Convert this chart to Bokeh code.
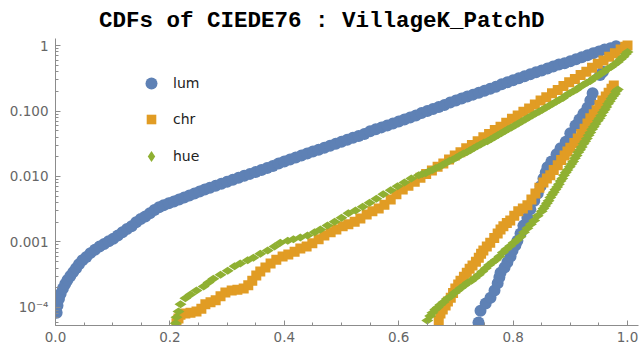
import numpy as np
from bokeh.plotting import figure
from bokeh.models import (FixedTicker, CustomJSTickFormatter, PrintfTickFormatter,
                          Legend, LegendItem, ColumnDataSource)
from bokeh.embed import file_html
from bokeh.resources import INLINE

TITLE = "CDFs of CIEDE76 : VillageK_PatchD"
series_names = ["lum", "chr", "hue"]
x_ticks = [0.0, 0.2, 0.4, 0.6, 0.8, 1.0]
y_ticks = [1e-4, 1e-3, 1e-2, 1e-1, 1.0]
y_tick_labels = ["10\u207b\u2074", "0.001", "0.010", "0.100", "1"]

# (x, log10 CDF) pairs
lum_1 = [(0.002,-4.08),(0.0035,-3.97),(0.006,-3.87),(0.009,-3.79),(0.013,-3.71),(0.017,-3.64),(0.021,-3.58),(0.026,-3.52),(0.031,-3.46),(0.036,-3.40),(0.041,-3.34),(0.047,-3.28),(0.054,-3.23),(0.061,-3.17),(0.069,-3.12),(0.077,-3.07),(0.085,-3.03),(0.093,-2.99),(0.101,-2.95),(0.109,-2.90),(0.117,-2.85),(0.125,-2.80),(0.133,-2.76),(0.141,-2.70),(0.149,-2.65),(0.157,-2.61),(0.165,-2.56),(0.173,-2.51),(0.181,-2.47),(0.189,-2.44),(0.198,-2.41),(0.207,-2.38),(0.216,-2.35),(0.225,-2.32),(0.234,-2.29),(0.243,-2.26),(0.252,-2.23),(0.261,-2.20),(0.270,-2.17),(0.280,-2.14),(0.290,-2.11),(0.300,-2.08),(0.310,-2.05),(0.320,-2.02),(0.330,-1.99),(0.340,-1.96),(0.350,-1.93),(0.360,-1.90),(0.370,-1.87),(0.380,-1.84),(0.390,-1.80),(0.400,-1.77),(0.410,-1.74),(0.420,-1.71),(0.430,-1.68),(0.440,-1.65),(0.450,-1.62),(0.460,-1.59),(0.470,-1.56),(0.480,-1.53),(0.490,-1.50),(0.500,-1.47),(0.510,-1.44),(0.520,-1.41),(0.530,-1.38),(0.540,-1.35),(0.550,-1.31),(0.560,-1.28),(0.570,-1.25),(0.580,-1.22),(0.590,-1.19),(0.600,-1.16),(0.610,-1.13),(0.620,-1.10),(0.630,-1.07),(0.640,-1.03),(0.650,-1.00),(0.660,-0.97),(0.670,-0.94),(0.680,-0.91),(0.690,-0.87),(0.700,-0.84),(0.710,-0.81),(0.720,-0.78),(0.730,-0.75),(0.740,-0.72),(0.750,-0.69),(0.760,-0.66),(0.770,-0.63),(0.780,-0.59),(0.790,-0.56),(0.800,-0.53),(0.810,-0.50),(0.820,-0.47),(0.830,-0.44),(0.840,-0.41),(0.850,-0.38),(0.860,-0.35),(0.870,-0.32),(0.880,-0.29),(0.890,-0.27),(0.900,-0.24),(0.910,-0.21),(0.920,-0.18),(0.930,-0.15),(0.940,-0.12),(0.950,-0.09),(0.960,-0.06),(0.970,-0.04),(0.980,-0.01)]
lum_2 = [(0.7395,-4.23),(0.743,-4.05),(0.752,-3.94),(0.7605,-3.85),(0.7675,-3.74),(0.773,-3.63),(0.776,-3.54),(0.778,-3.47),(0.785,-3.39),(0.790,-3.31),(0.7955,-3.22),(0.799,-3.13),(0.804,-3.05),(0.8075,-2.98),(0.813,-2.87),(0.818,-2.75),(0.825,-2.63),(0.830,-2.50),(0.837,-2.37),(0.843,-2.26),(0.848,-2.15),(0.853,-2.03),(0.857,-1.94),(0.860,-1.86),(0.867,-1.77),(0.876,-1.66),(0.883,-1.57),(0.892,-1.47),(0.900,-1.34),(0.909,-1.22),(0.916,-1.13),(0.923,-1.04),(0.930,-0.95),(0.935,-0.84),(0.939,-0.73),(0.952,-0.45),(0.957,-0.40)]
chr_1 = [(0.2115,-4.24),(0.215,-4.17),(0.2185,-4.11),(0.227,-4.09),(0.236,-4.08),(0.2465,-4.06),(0.255,-4.02),(0.262,-3.95),(0.271,-3.92),(0.280,-3.89),(0.2885,-3.83),(0.297,-3.77),(0.308,-3.74),(0.318,-3.73),(0.329,-3.71),(0.337,-3.66),(0.344,-3.59),(0.351,-3.51),(0.358,-3.45),(0.367,-3.39),(0.376,-3.33),(0.386,-3.27),(0.397,-3.22),(0.407,-3.19),(0.418,-3.15),(0.428,-3.10),(0.439,-3.07),(0.449,-3.02),(0.460,-2.96),(0.470,-2.90),(0.481,-2.85),(0.491,-2.81),(0.502,-2.76),(0.512,-2.73),(0.523,-2.69),(0.533,-2.64),(0.544,-2.58),(0.554,-2.53),(0.565,-2.49),(0.575,-2.43),(0.586,-2.35),(0.596,-2.27),(0.607,-2.20),(0.617,-2.14),(0.628,-2.08),(0.638,-2.02),(0.648,-1.96),(0.658,-1.91),(0.668,-1.85),(0.678,-1.80),(0.688,-1.74),(0.698,-1.68),(0.708,-1.63),(0.718,-1.57),(0.728,-1.52),(0.738,-1.46),(0.748,-1.40),(0.758,-1.35),(0.768,-1.29),(0.778,-1.24),(0.788,-1.18),(0.798,-1.12),(0.808,-1.07),(0.818,-1.01),(0.828,-0.96),(0.838,-0.90),(0.848,-0.84),(0.858,-0.79),(0.868,-0.73),(0.878,-0.68),(0.888,-0.62),(0.898,-0.56),(0.908,-0.51),(0.918,-0.45),(0.928,-0.40),(0.938,-0.34),(0.948,-0.28),(0.958,-0.23),(0.968,-0.17),(0.978,-0.12),(0.988,-0.06),(0.996,-0.02),(1.000,0.0)]
chr_2 = [(0.670,-4.20),(0.673,-4.09),(0.677,-4.03),(0.682,-3.97),(0.686,-3.91),(0.691,-3.85),(0.695,-3.78),(0.699,-3.71),(0.704,-3.65),(0.708,-3.59),(0.714,-3.53),(0.719,-3.47),(0.724,-3.41),(0.729,-3.36),(0.735,-3.30),(0.740,-3.24),(0.744,-3.18),(0.748,-3.13),(0.754,-3.07),(0.760,-3.01),(0.767,-2.94),(0.773,-2.87),(0.778,-2.81),(0.783,-2.76),(0.789,-2.71),(0.795,-2.67),(0.802,-2.60),(0.809,-2.53),(0.817,-2.49),(0.825,-2.44),(0.832,-2.35),(0.839,-2.26),(0.846,-2.17),(0.853,-2.09),(0.859,-2.03),(0.865,-1.98),(0.871,-1.90),(0.878,-1.83),(0.884,-1.75),(0.890,-1.68),(0.895,-1.62),(0.900,-1.56),(0.907,-1.49),(0.913,-1.42),(0.919,-1.35),(0.925,-1.27),(0.930,-1.19),(0.935,-1.11),(0.941,-1.05),(0.946,-0.99),(0.951,-0.91),(0.956,-0.84),(0.962,-0.78),(0.967,-0.72),(0.972,-0.66),(0.976,-0.61)]
hue_1 = [(0.210,-4.24),(0.2115,-4.15),(0.215,-4.06),(0.2185,-3.95),(0.227,-3.86),(0.236,-3.80),(0.2465,-3.74),(0.259,-3.68),(0.2675,-3.62),(0.276,-3.56),(0.2885,-3.50),(0.301,-3.44),(0.313,-3.37),(0.323,-3.33),(0.336,-3.28),(0.346,-3.24),(0.358,-3.18),(0.371,-3.13),(0.383,-3.07),(0.393,-3.01),(0.406,-2.98),(0.416,-2.96),(0.428,-2.93),(0.4405,-2.90),(0.453,-2.85),(0.463,-2.81),(0.4755,-2.75),(0.488,-2.69),(0.500,-2.63),(0.512,-2.56),(0.5245,-2.52),(0.537,-2.46),(0.549,-2.40),(0.561,-2.34),(0.573,-2.27),(0.586,-2.21),(0.598,-2.15),(0.610,-2.09),(0.622,-2.03),(0.635,-1.98),(0.641,-1.96),(0.647,-1.95),(0.653,-1.92),(0.659,-1.90),(0.665,-1.87),(0.671,-1.85),(0.677,-1.82),(0.683,-1.79),(0.689,-1.76),(0.695,-1.74),(0.701,-1.71),(0.707,-1.68),(0.713,-1.65),(0.719,-1.63),(0.725,-1.60),(0.731,-1.57),(0.737,-1.54),(0.743,-1.51),(0.749,-1.48),(0.755,-1.46),(0.761,-1.43),(0.767,-1.40),(0.773,-1.37),(0.779,-1.34),(0.785,-1.31),(0.791,-1.28),(0.797,-1.25),(0.803,-1.22),(0.809,-1.19),(0.815,-1.16),(0.821,-1.13),(0.827,-1.10),(0.833,-1.07),(0.839,-1.04),(0.845,-1.01),(0.851,-0.98),(0.857,-0.95),(0.863,-0.92),(0.869,-0.89),(0.875,-0.86),(0.881,-0.83),(0.887,-0.80),(0.893,-0.76),(0.899,-0.73),(0.905,-0.70),(0.911,-0.67),(0.917,-0.63),(0.923,-0.60),(0.929,-0.57),(0.935,-0.54),(0.941,-0.50),(0.947,-0.47),(0.953,-0.43),(0.959,-0.40),(0.965,-0.36),(0.971,-0.33),(0.977,-0.29),(0.983,-0.25),(0.988,-0.21),(0.993,-0.17),(0.997,-0.13),(1.000,-0.10)]
hue_2 = [(0.650,-4.20),(0.655,-4.13),(0.659,-4.08),(0.664,-4.03),(0.668,-4.00),(0.673,-3.96),(0.678,-3.92),(0.684,-3.87),(0.691,-3.83),(0.697,-3.78),(0.703,-3.74),(0.709,-3.70),(0.715,-3.66),(0.721,-3.62),(0.727,-3.59),(0.733,-3.55),(0.740,-3.50),(0.746,-3.45),(0.752,-3.40),(0.758,-3.35),(0.764,-3.31),(0.770,-3.27),(0.776,-3.22),(0.782,-3.16),(0.788,-3.11),(0.795,-3.06),(0.801,-3.01),(0.807,-2.97),(0.813,-2.92),(0.819,-2.85),(0.825,-2.79),(0.831,-2.73),(0.837,-2.67),(0.843,-2.60),(0.850,-2.53),(0.853,-2.49),(0.856,-2.45),(0.859,-2.41),(0.862,-2.37),(0.865,-2.32),(0.868,-2.28),(0.871,-2.24),(0.874,-2.20),(0.877,-2.16),(0.880,-2.12),(0.883,-2.07),(0.886,-2.03),(0.889,-1.98),(0.892,-1.94),(0.895,-1.90),(0.899,-1.85),(0.902,-1.81),(0.905,-1.77),(0.908,-1.72),(0.911,-1.68),(0.914,-1.63),(0.917,-1.59),(0.920,-1.55),(0.923,-1.50),(0.926,-1.46),(0.929,-1.42),(0.932,-1.37),(0.935,-1.33),(0.938,-1.28),(0.941,-1.24),(0.944,-1.20),(0.948,-1.15),(0.951,-1.11),(0.954,-1.07),(0.957,-1.02),(0.960,-0.98),(0.963,-0.94),(0.966,-0.89),(0.969,-0.85),(0.972,-0.81),(0.975,-0.77),(0.978,-0.74),(0.980,-0.70),(0.983,-0.67)]

COLORS = {"lum": "#5E81B5", "chr": "#E19C24", "hue": "#8FB032"}


def to_source(*branches):
    pts = [pt for br in branches for pt in br]
    xs = np.array([p_[0] for p_ in pts])
    ys = 10.0 ** np.array([p_[1] for p_ in pts])
    return ColumnDataSource(dict(x=xs, y=ys))


p = figure(width=642, height=349, y_axis_type="log",
           x_range=(0.0, 1.0192), y_range=(10 ** -4.275, 10 ** 0.107),
           output_backend="svg", toolbar_location=None,
           min_border_left=55, min_border_right=4, min_border_top=38, min_border_bottom=24)
p.outline_line_color = None
p.xgrid.visible = False
p.ygrid.visible = False
p.background_fill_color = "white"

p.title.text = TITLE
p.title.align = "left"
p.title.offset = 43.5
p.title.standoff = 9
p.title.vertical_align = "bottom"
p.title.text_font = "Liberation Mono"
p.title.text_font_style = "bold"
p.title.text_font_size = "22.5px"
p.title.text_color = "#000000"

r_lum = p.scatter("x", "y", source=to_source(lum_1, lum_2), marker="circle", size=12,
                  fill_color=COLORS["lum"], line_color=None)
r_chr = p.scatter("x", "y", source=to_source(chr_1, chr_2), marker="square", size=10,
                  fill_color=COLORS["chr"], line_color=None)
r_hue = p.scatter("x", "y", source=to_source(hue_1, hue_2), marker="diamond", size=12,
                  angle=np.pi / 2, fill_color=COLORS["hue"], line_color=None)

AXIS_GRAY = "#8c8c8c"
LABEL_GRAY = "#666666"
for ax in (p.xaxis[0], p.yaxis[0]):
    ax.axis_line_color = AXIS_GRAY
    ax.major_tick_line_color = AXIS_GRAY
    ax.minor_tick_line_color = AXIS_GRAY
    ax.major_tick_in = 5
    ax.major_tick_out = 0
    ax.minor_tick_in = 3
    ax.minor_tick_out = 0
    ax.major_label_text_color = LABEL_GRAY
    ax.major_label_text_font = "DejaVu Sans"
    ax.major_label_text_font_size = "13.5px"

x_minor = [round(0.05 * k, 2) for k in range(0, 21)]
p.xaxis[0].ticker = FixedTicker(ticks=x_ticks, minor_ticks=x_minor)
p.xaxis[0].formatter = PrintfTickFormatter(format="%.1f")
p.xaxis[0].major_label_standoff = 6

y_minor = [k * 10.0 ** d for d in range(-5, 0) for k in range(2, 10)]
p.yaxis[0].ticker = FixedTicker(ticks=y_ticks, minor_ticks=y_minor)
p.yaxis[0].formatter = CustomJSTickFormatter(args=dict(tv=y_ticks, tl=y_tick_labels), code="""
let best = 0, bd = 1e9;
for (let i = 0; i < tv.length; i++) {
  const d = Math.abs(Math.log10(tick) - Math.log10(tv[i]));
  if (d < bd) { bd = d; best = i; }
}
return tl[best];
""")
p.yaxis[0].major_label_standoff = 7

legend_specs = [("lum", r_lum, 30, 81, 227, 7),
                ("chr", r_chr, 24, 84, 194, 10),
                ("hue", r_hue, 28, 82, 155, 8)]
for name, rend, g, vx, vy, st in legend_specs:
    lg = Legend(items=[LegendItem(label=name, renderers=[rend])], location=(vx, vy),
                glyph_width=g, glyph_height=g, label_standoff=st, padding=0, margin=0,
                border_line_color=None, background_fill_alpha=0,
                label_text_font="DejaVu Sans", label_text_font_size="14px",
                label_text_color="#222222", label_height=g)
    p.add_layout(lg, "center")

open("out.html", "w").write(file_html(p, INLINE))
